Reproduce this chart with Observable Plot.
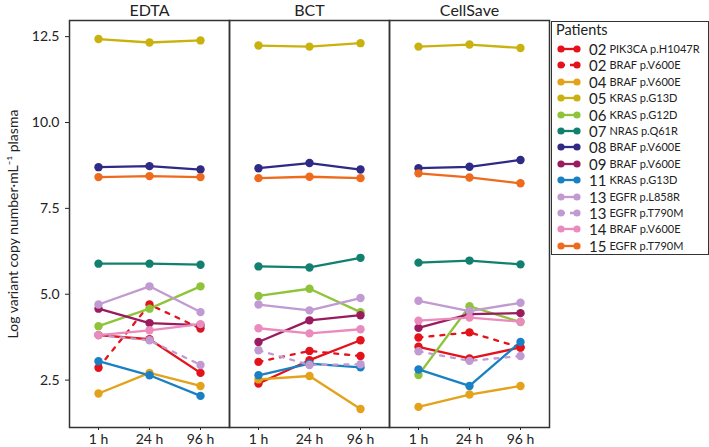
<!DOCTYPE html>
<html>
<head>
<meta charset="utf-8">
<script src="https://cdn.jsdelivr.net/npm/d3@7"></script>
<script src="https://cdn.jsdelivr.net/npm/@observablehq/plot@0.6"></script>
<style>
  body { margin: 0; background: #fff; font-family: Lato, "Open Sans", sans-serif; }
  #wrap { position: relative; width: 709px; height: 447px; overflow: hidden; }
  #chart { position: absolute; left: 0; top: 0; }
  #legend { position: absolute; left: 551px; top: 21px; width: 158px; height: 234px; box-sizing: border-box;
            border: 1.5px solid #333; background: #fff; color: #222; }
  #legend .title { position: absolute; left: 4px; top: 1px; font-size: 14.5px; line-height: 14px; }
  #legend .row { position: absolute; left: 5px; height: 16px; display: flex; align-items: center; white-space: nowrap; line-height: 16px; }
  #legend .id { font-size: 15px; margin-left: 8px; margin-right: 3px; }
  #legend .mut { font-size: 11px; }
</style>
</head>
<body>
<div id="wrap">
  <div id="chart"></div>
  <div id="legend"></div>
</div>
<script>
// ---- data ----
const times = ["1 h", "24 h", "96 h"];
const tubes = ["EDTA", "BCT", "CellSave"];
const patientIds = ["02", "02", "04", "05", "06", "07", "08", "09", "11", "13", "13", "14", "15"];
const mutations = ["PIK3CA p.H1047R", "BRAF p.V600E", "BRAF p.V600E", "KRAS p.G13D", "KRAS p.G12D",
  "NRAS p.Q61R", "BRAF p.V600E", "BRAF p.V600E", "KRAS p.G13D", "EGFR p.L858R", "EGFR p.T790M",
  "BRAF p.V600E", "EGFR p.T790M"];
const seriesColors = ["#e3121b", "#e3121b", "#e3a21a", "#c9b20e", "#8fc43a", "#12806f", "#2e2a85",
  "#9a1b5e", "#1a80c4", "#c09ad0", "#c09ad0", "#e98bbd", "#ee6a1c"];
const dashedSeries = [false, true, false, false, false, false, false, false, false, false, true, false, false];

// values: EDTA (1 h, 24 h, 96 h), BCT (1 h, 24 h, 96 h), CellSave (1 h, 24 h, 96 h)
const p02_PIK3CA = [3.81, 3.69, 2.71, 2.40, 3.08, 3.66, 3.47, 3.13, 3.45];
const p02_BRAF   = [2.86, 4.70, 4.00, 3.03, 3.35, 3.20, 3.74, 3.89, 3.45];
const p04_BRAF   = [2.11, 2.71, 2.33, 2.52, 2.62, 1.66, 1.72, 2.08, 2.33];
const p05_KRAS   = [12.43, 12.33, 12.39, 12.24, 12.21, 12.31, 12.21, 12.27, 12.17];
const p06_KRAS   = [4.07, 4.58, 5.23, 4.95, 5.16, 4.48, 2.65, 4.65, 4.19];
const p07_NRAS   = [5.89, 5.89, 5.86, 5.81, 5.78, 6.06, 5.92, 5.98, 5.87];
const p08_BRAF   = [8.70, 8.73, 8.63, 8.67, 8.82, 8.63, 8.67, 8.71, 8.91];
const p09_BRAF   = [4.58, 4.16, 4.10, 3.61, 4.24, 4.39, 4.02, 4.42, 4.45];
const p11_KRAS   = [3.05, 2.64, 2.04, 2.64, 2.98, 2.87, 2.81, 2.33, 3.61];
const p13_L858R  = [4.70, 5.23, 4.48, 4.70, 4.53, 4.89, 4.81, 4.51, 4.75];
const p13_T790M  = [3.81, 3.66, 2.94, 3.37, 2.94, 2.96, 3.34, 3.06, 3.20];
const p14_BRAF   = [3.81, 3.95, 4.13, 4.01, 3.86, 3.98, 4.23, 4.32, 4.20];
const p15_EGFR   = [8.41, 8.44, 8.41, 8.38, 8.42, 8.38, 8.52, 8.40, 8.23];
const seriesValues = [p02_PIK3CA, p02_BRAF, p04_BRAF, p05_KRAS, p06_KRAS, p07_NRAS, p08_BRAF,
  p09_BRAF, p11_KRAS, p13_L858R, p13_T790M, p14_BRAF, p15_EGFR];
const yTicks = [2.5, 5.0, 7.5, 10.0, 12.5];

// ---- build table ----
const keys = patientIds.map((id, i) => id + " " + mutations[i]);
const rows = [];
seriesValues.forEach((vals, s) => {
  tubes.forEach((tube, t) => {
    times.forEach((time, k) => {
      rows.push({series: keys[s], idx: s, dashed: dashedSeries[s], tube, time, value: vals[t * 3 + k]});
    });
  });
});

const lineMarks = keys.map((key, s) =>
  Plot.line(rows.filter(d => d.idx === s), {
    x: "time", y: "value", fx: "tube", stroke: "series",
    strokeWidth: 2.3,
    strokeDasharray: dashedSeries[s] ? "4,7" : null
  })
);
const dotMarks = keys.map((key, s) =>
  Plot.dot(rows.filter(d => d.idx === s), {
    x: "time", y: "value", fx: "tube", fill: "series", r: 4.2
  })
);

const chart = Plot.plot({
  width: 551,
  height: 447,
  marginLeft: 68,
  marginRight: 1,
  marginTop: 20,
  marginBottom: 20,
  style: {fontFamily: "Lato, 'Open Sans', sans-serif", fontSize: "14px", color: "#222", background: "#fff"},
  fx: {domain: tubes, padding: 0},
  x: {domain: times, padding: 0.55},
  y: {domain: [1.12, 12.97]},
  color: {domain: keys, range: seriesColors},
  marks: [
    Plot.axisFx({anchor: "top", label: null, tickSize: 0, tickPadding: 5, fontSize: 16}),
    Plot.axisX({anchor: "bottom", label: null, tickSize: 3, tickPadding: 4, fontSize: 14}),
    Plot.axisY({anchor: "left", ticks: yTicks, tickFormat: d3.format(".1f"), tickSize: 4, tickPadding: 6,
      fontSize: 14, label: "Log variant copy number\u00b7mL\u207b\u00b9 plasma", labelAnchor: "center",
      labelArrow: "none", labelOffset: 61}),
    ...lineMarks,
    ...dotMarks,
    Plot.frame({stroke: "#333", strokeWidth: 1.5})
  ]
});
document.getElementById("chart").appendChild(chart);

// ---- legend ----
const legend = document.getElementById("legend");
const title = document.createElement("div");
title.className = "title";
title.textContent = "Patients";
legend.appendChild(title);
keys.forEach((key, s) => {
  const row = document.createElement("div");
  row.className = "row";
  row.style.top = (19 + 16.4 * s) + "px";
  const c = seriesColors[s];
  const dash = dashedSeries[s] ? ' stroke-dasharray="4,5"' : "";
  row.innerHTML =
    `<svg width="24" height="12"><line x1="4" x2="20" y1="6" y2="6" stroke="${c}" stroke-width="2.3"${dash}/>` +
    `<circle cx="4" cy="6" r="3.6" fill="${c}"/><circle cx="20" cy="6" r="3.6" fill="${c}"/></svg>` +
    `<span class="id">${patientIds[s]}</span><span class="mut">${mutations[s]}</span>`;
  legend.appendChild(row);
});
</script>
</body>
</html>
